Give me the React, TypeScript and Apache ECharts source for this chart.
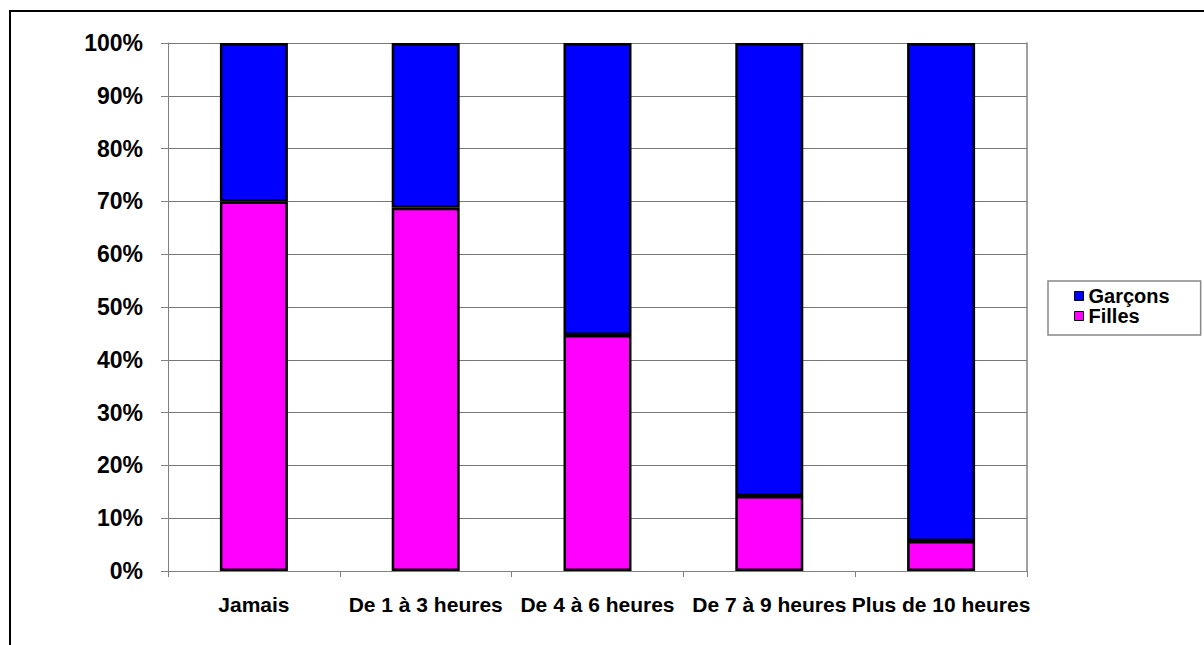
import React, { useEffect, useRef } from "react";
import * as echarts from "echarts";

const categories = [
  "Jamais",
  "De 1 à 3 heures",
  "De 4 à 6 heures",
  "De 7 à 9 heures",
  "Plus de 10 heures",
];
const filles = [70, 68.8, 44.7, 14.2, 5.7];
const garcons = [30, 31.2, 55.3, 85.8, 94.3];
const seriesNames = ["Garçons", "Filles"];

const FONT = '"Liberation Sans", Arial, sans-serif';

export default function App() {
  const ref = useRef<HTMLDivElement>(null);
  useEffect(() => {
    if (!ref.current) return;
    const chart = echarts.init(ref.current, null, { renderer: "svg" });
    const axisGray = "#808080";
    chart.setOption({
      animation: false,
      backgroundColor: "#ffffff",
      textStyle: { fontFamily: FONT },
      graphic: [
        {
          type: "rect",
          shape: { x: 10, y: 11, width: 1230, height: 680 },
          style: { fill: "none", stroke: "#000", lineWidth: 2 },
          silent: true,
          z: 100,
        },
      ],
      grid: { left: 168, top: 43, right: 177, bottom: 74, containLabel: false },
      legend: {
        orient: "vertical",
        left: 1048,
        top: 281,
        data: seriesNames,
        icon: "rect",
        itemWidth: 9,
        itemHeight: 9,
        itemGap: 0,
        padding: [5, 31, 9, 26],
        borderColor: "#888",
        borderWidth: 1.5,
        formatter: (name: string) => `{b|${name}}`,
        textStyle: {
          fontFamily: FONT,
          fontWeight: "bold",
          fontSize: 20,
          color: "#000",
          rich: {
            b: {
              fontFamily: FONT,
              fontWeight: "bold",
              fontSize: 20,
              color: "#000",
              lineHeight: 18,
              height: 18,
            },
          },
        },
        itemStyle: { borderColor: "#000", borderWidth: 1 },
      },
      xAxis: {
        type: "category",
        data: categories,
        boundaryGap: true,
        axisLine: { show: true, lineStyle: { color: axisGray, width: 1 } },
        axisTick: { show: true, length: 6, lineStyle: { color: axisGray } },
        axisLabel: {
          interval: 0,
          hideOverlap: false,
          margin: 23,
          fontFamily: FONT,
          fontWeight: "bold",
          fontSize: 21,
          color: "#000",
        },
        splitLine: { show: false },
      },
      yAxis: [
        {
          type: "value",
          min: 0,
          max: 100,
          interval: 10,
          axisLine: { show: true, lineStyle: { color: axisGray, width: 1 } },
          axisTick: { show: true, length: 7, lineStyle: { color: axisGray } },
          axisLabel: {
            formatter: "{value}%",
            margin: 25,
            fontFamily: FONT,
            fontWeight: "bold",
            fontSize: 23,
            color: "#000",
          },
          splitLine: { show: true, lineStyle: { color: "#777", width: 1 } },
        },
        {
          type: "value",
          min: 0,
          max: 100,
          interval: 10,
          position: "right",
          axisLine: { show: true, lineStyle: { color: axisGray, width: 1.5 } },
          axisTick: { show: false },
          axisLabel: { show: false },
          splitLine: { show: false },
        },
      ],
      series: [
        {
          name: "Filles",
          type: "bar",
          stack: "total",
          data: filles,
          barWidth: 68,
          itemStyle: { color: "#FF00FF", borderColor: "#000", borderWidth: 2.5 },
        },
        {
          name: "Garçons",
          type: "bar",
          stack: "total",
          data: garcons,
          barWidth: 68,
          itemStyle: { color: "#0000FF", borderColor: "#000", borderWidth: 2.5 },
        },
      ],
    });
    return () => chart.dispose();
  }, []);
  return (
    <div
      ref={ref}
      style={{ position: "fixed", left: 0, top: 0, width: 1204, height: 645 }}
    />
  );
}
